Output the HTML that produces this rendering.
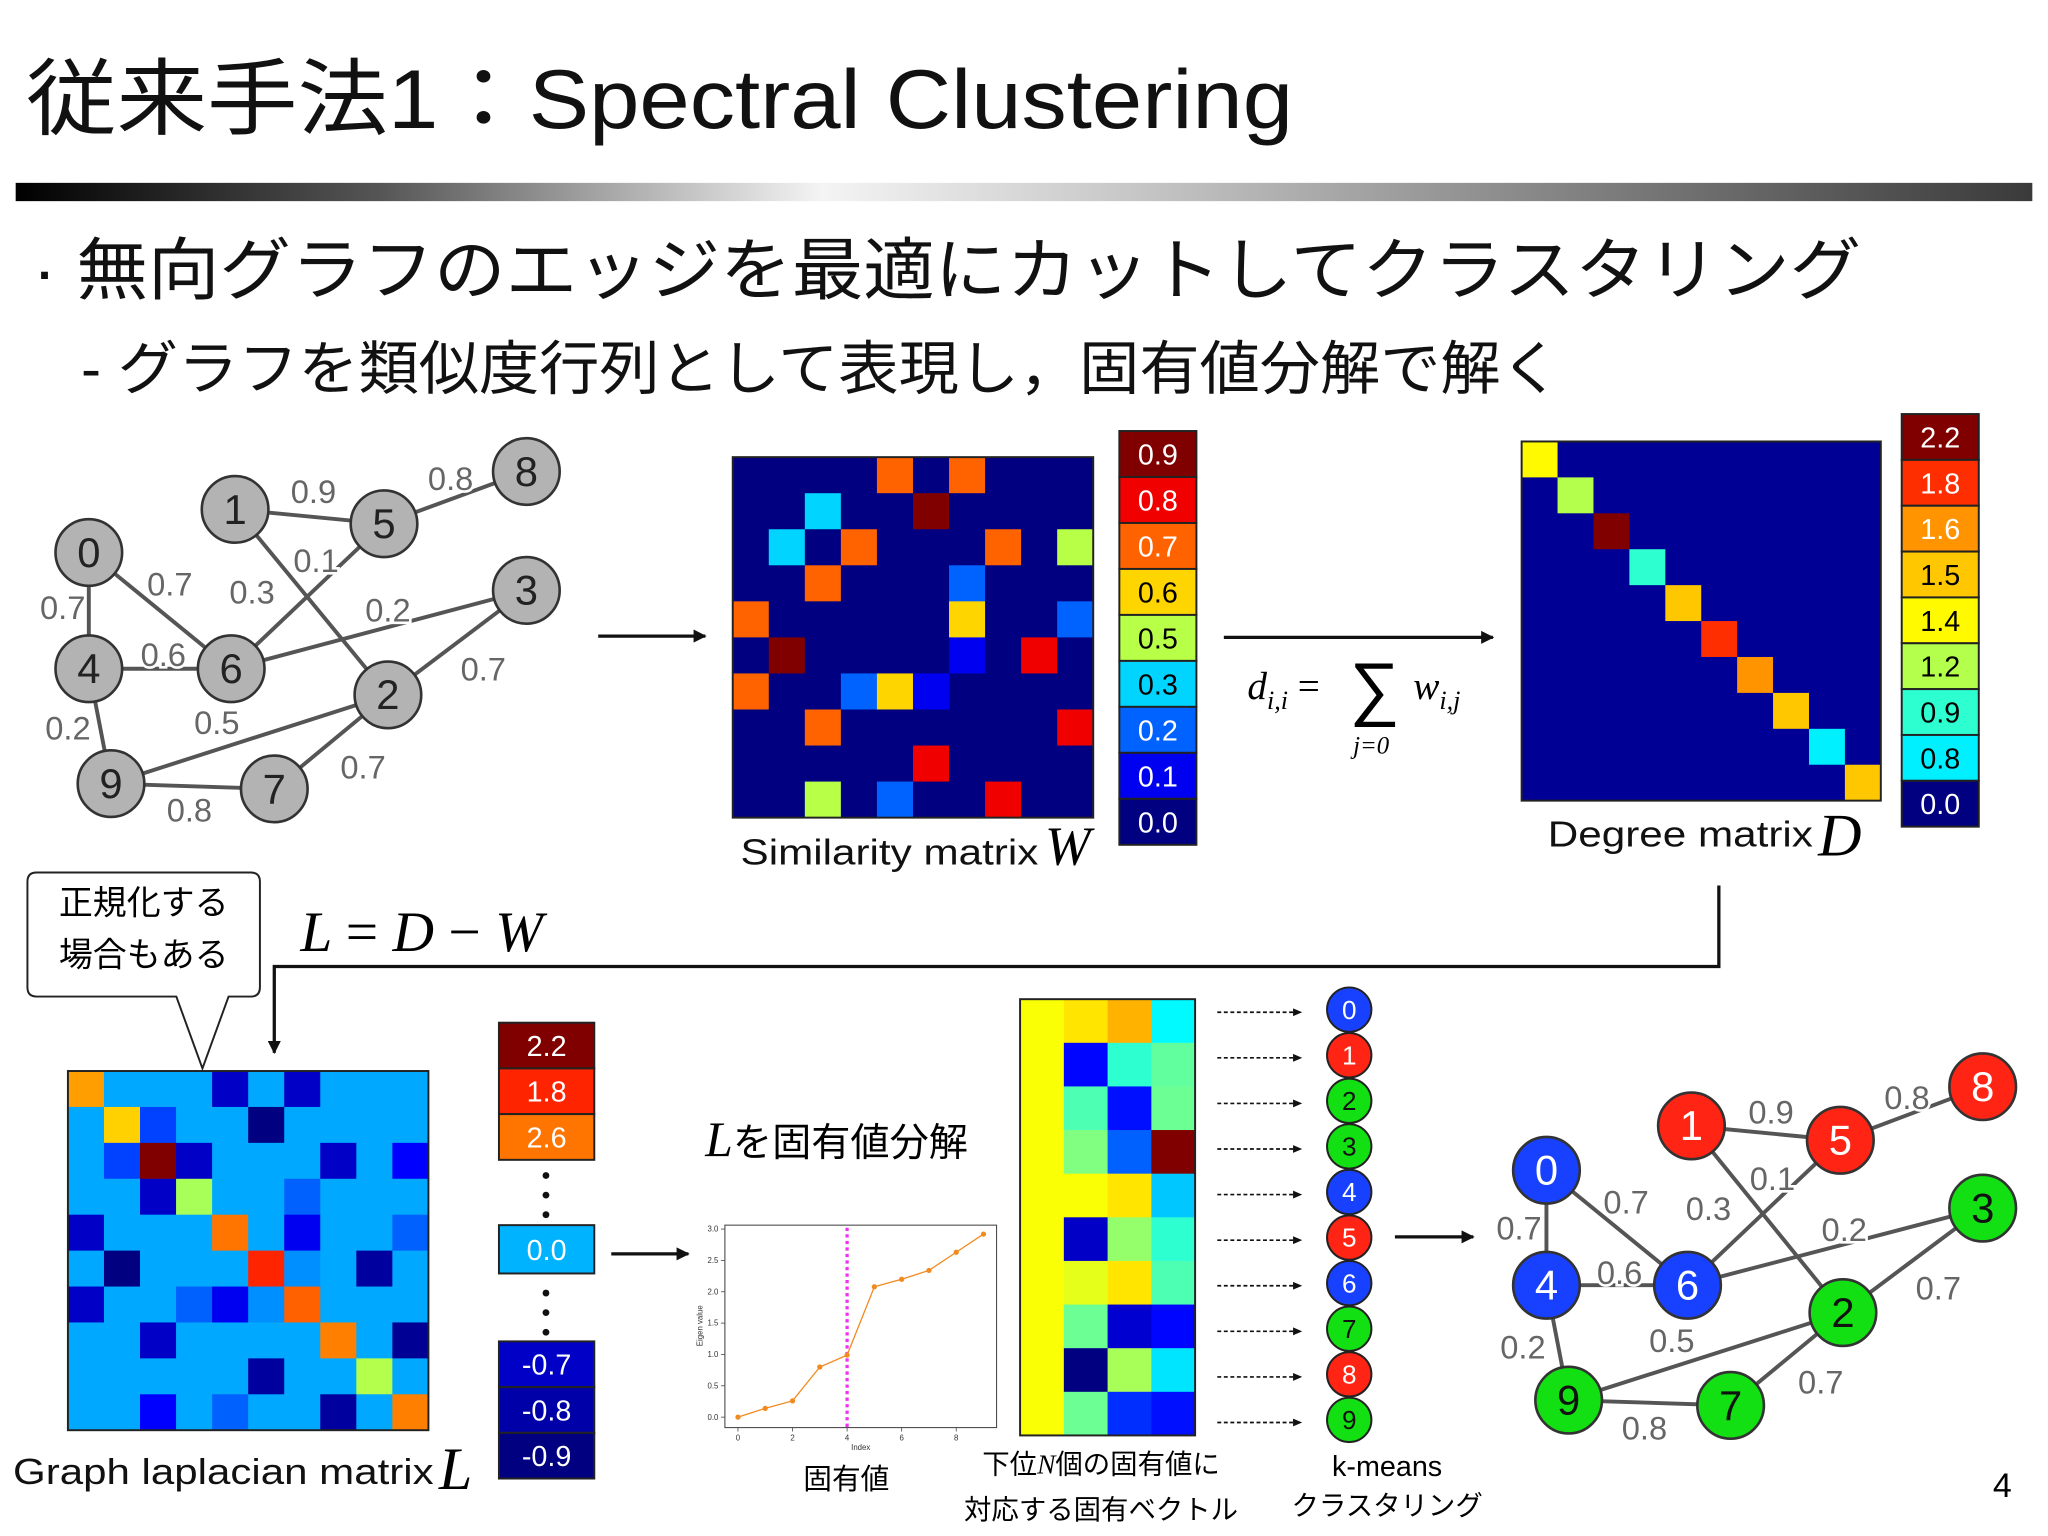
<!DOCTYPE html>
<html><head><meta charset="utf-8">
<style>
html,body{margin:0;padding:0;background:#fff;}
svg{display:block;}
text{font-family:"Liberation Sans","Noto Sans CJK JP",sans-serif;}
.ser{font-family:"Liberation Serif","Noto Serif CJK SC",serif;font-style:italic;}
</style></head>
<body>
<svg id="s" width="2048" height="1536" viewBox="0 0 1568 1176" xmlns="http://www.w3.org/2000/svg">
<defs>
<linearGradient id="bar" x1="0" x2="1" y1="0" y2="0">
<stop offset="0" stop-color="#000"/><stop offset="0.18" stop-color="#555"/><stop offset="0.4" stop-color="#f4f4f4"/><stop offset="0.55" stop-color="#c8c8c8"/><stop offset="1" stop-color="#3a3a3a"/>
</linearGradient>
<marker id="ah" markerWidth="10" markerHeight="10" refX="9" refY="5" orient="auto" markerUnits="userSpaceOnUse"><path d="M0,0 L10,5 L0,10 z" fill="#111"/></marker>
<marker id="ahs" markerWidth="8" markerHeight="8" refX="7" refY="4" orient="auto" markerUnits="userSpaceOnUse"><path d="M0,1 L7,4 L0,7 z" fill="#111"/></marker>
</defs>
<text x="20" y="98" font-size="64" fill="#111" textLength="970" lengthAdjust="spacingAndGlyphs">従来手法1：Spectral Clustering</text>
<rect x="12" y="140" width="1544" height="14" fill="url(#bar)"/>
<text x="25" y="225" font-size="52" fill="#111" textLength="1400" lengthAdjust="spacingAndGlyphs">· 無向グラフのエッジを最適にカットしてクラスタリング</text>
<text x="62" y="298" font-size="45" fill="#111" textLength="1133" lengthAdjust="spacingAndGlyphs">- グラフを類似度行列として表現し，固有値分解で解く</text>

<line x1="458" y1="487" x2="540" y2="487" stroke="#111" stroke-width="2.5" marker-end="url(#ah)"/>
<line x1="937" y1="488" x2="1143" y2="488" stroke="#111" stroke-width="2.5" marker-end="url(#ah)"/>
<g>
<text x="955" y="535" font-size="30" class="ser">d<tspan font-size="20" dy="8">i,i</tspan><tspan dy="-8" font-style="normal"> = </tspan></text>
<text x="1033" y="545" font-size="54" font-family="DejaVu Serif, serif">∑</text>
<text x="1036" y="577" font-size="19" class="ser">j=0</text>
<text x="1082" y="535" font-size="30" class="ser">w<tspan font-size="20" dy="8">i,j</tspan></text>
</g>
<text x="567" y="662" font-size="28" fill="#111" textLength="228" lengthAdjust="spacingAndGlyphs">Similarity matrix</text>
<text x="800" y="662" font-size="42" class="ser">W</text>
<text x="1185" y="648" font-size="28" fill="#111" textLength="203" lengthAdjust="spacingAndGlyphs">Degree matrix</text>
<text x="1392" y="655" font-size="46" class="ser">D</text>

<polyline points="1316,678 1316,740 210,740 210,806" fill="none" stroke="#111" stroke-width="2.5" marker-end="url(#ah)"/>
<text x="230" y="728" font-size="44" class="ser">L <tspan font-style="normal">=</tspan> D <tspan font-style="normal">−</tspan> W</text>
<g>
<path d="M28,668 H192 Q199,668 199,675 V756 Q199,763 192,763 H175 L155,818 L135,763 H28 Q21,763 21,756 V675 Q21,668 28,668 Z" fill="#fff" stroke="#222" stroke-width="1.5"/>
<text x="110" y="700" font-size="26" text-anchor="middle">正規化する</text>
<text x="110" y="740" font-size="26" text-anchor="middle">場合もある</text>
</g>
<text x="10" y="1136" font-size="28" fill="#111" textLength="322" lengthAdjust="spacingAndGlyphs">Graph laplacian matrix</text>
<text x="336" y="1140" font-size="46" class="ser">L</text>
<line x1="468" y1="960" x2="527" y2="960" stroke="#111" stroke-width="2.5" marker-end="url(#ah)"/>
<text x="540" y="885" font-size="30"><tspan class="ser" font-size="38">L</tspan>を固有値分解</text>
<text x="615" y="1140" font-size="22">固有値</text>
<text x="843" y="1128" font-size="21" text-anchor="middle">下位<tspan class="ser">N</tspan>個の固有値に</text>
<text x="843" y="1163" font-size="21" text-anchor="middle">対応する固有ベクトル</text>
<text x="1062" y="1130" font-size="22" text-anchor="middle">k-means</text>
<text x="1062" y="1160" font-size="21" text-anchor="middle">クラスタリング</text>
<line x1="1068" y1="947" x2="1128" y2="947" stroke="#111" stroke-width="2.5" marker-end="url(#ah)"/>
<text x="1533" y="1146" font-size="26" text-anchor="middle">4</text>
<g id="dyn"></g>
</svg>
<script>
// ---- data ----
const nodeIds=[0,1,2,3,4,5,6,7,8,9];
const edgeFrom=[0,0,1,1,5,5,6,4,4,9,9,7,2];
const edgeTo  =[4,6,5,2,6,8,3,6,9,2,7,2,3];
const edgeW   =[0.7,0.7,0.9,0.3,0.1,0.8,0.2,0.6,0.2,0.5,0.8,0.7,0.7];
const clusterColor=['#1840ff','#ff2414','#12e012','#12e012','#1840ff','#ff2414','#1840ff','#12e012','#ff2414','#12e012'];
const wRows=[[0,0,0,0,0.7,0,0.7,0,0,0],[0,0,0.3,0,0,0.9,0,0,0,0],[0,0.3,0,0.7,0,0,0,0.7,0,0.5],[0,0,0.7,0,0,0,0.2,0,0,0],[0.7,0,0,0,0,0,0.6,0,0,0.2],[0,0.9,0,0,0,0,0.1,0,0.8,0],[0.7,0,0,0.2,0.6,0.1,0,0,0,0],[0,0,0.7,0,0,0,0,0,0,0.8],[0,0,0,0,0,0.8,0,0,0,0],[0,0,0.5,0,0.2,0,0,0.8,0,0]];
const wBarLabels=['0.9','0.8','0.7','0.6','0.5','0.3','0.2','0.1','0.0'];
const degrees=[1.4,1.2,2.2,0.9,1.5,1.8,1.6,1.5,0.8,1.5];
const dBarLabels=['2.2','1.8','1.6','1.5','1.4','1.2','0.9','0.8','0.0'];
const dBarT=[1,0.83,0.73,0.68,0.63,0.55,0.42,0.36,0];
const lBg=0.29;
const lCells=[[0,0,.72],[0,4,.07],[0,6,.07],[1,1,.67],[1,2,.19],[1,5,0],[2,1,.19],[2,2,1],[2,3,.07],[2,7,.07],[2,9,.125],[3,2,.07],[3,3,.54],[3,6,.22],[4,0,.07],[4,4,.76],[4,6,.11],[4,9,.22],[5,1,0],[5,5,.84],[5,6,.265],[5,8,.03],[6,0,.07],[6,3,.22],[6,4,.11],[6,5,.265],[6,6,.78],[7,2,.07],[7,7,.75],[7,9,.02],[8,5,.03],[8,8,.55],[9,2,.125],[9,4,.22],[9,7,.03],[9,9,.75]];
const lBarTop=['2.2','1.8','2.6'];
const lBarTopT=[1,0.84,0.76];
const lBarBot=['-0.7','-0.8','-0.9'];
const lBarBotT=[0.07,0.04,0];
const eigIdx=[0,1,2,3,4,5,6,7,8,9];
const eigVals=[0,0.14,0.26,0.8,0.99,2.08,2.2,2.34,2.63,2.92];
const eigCut=4;
const xTicks=[0,2,4,6,8];
const yTicks=[0,0.5,1,1.5,2,2.5,3];
const vecT=[[.62,.65,.7,.37],[.62,.13,.42,.47],[.62,.45,.14,.48],[.62,.5,.22,1],[.62,.62,.65,.32],[.62,.07,.52,.42],[.62,.6,.65,.45],[.62,.48,.08,.13],[.62,0,.54,.35],[.62,.48,.17,.14]];

const NS='http://www.w3.org/2000/svg';
const dyn=document.getElementById('dyn');
function mk(tag,attrs,parent,txt){const e=document.createElementNS(NS,tag);for(const k in attrs)e.setAttribute(k,attrs[k]);if(txt!==undefined)e.textContent=txt;(parent||dyn).appendChild(e);return e;}
function cl(v){return Math.max(0,Math.min(1,v));}
function jet(t){const r=cl(1.5-Math.abs(4*t-3)),g=cl(1.5-Math.abs(4*t-2)),b=cl(1.5-Math.abs(4*t-1));return `rgb(${Math.round(r*255)},${Math.round(g*255)},${Math.round(b*255)})`;}
function txtCol(t){return (t>0.3&&t<0.7)?'#000':'#fff';}

// ---- graphs ----
function drawGraph(pos,labelPos,fills,textFill,name){
  const g=mk('g',{});
  
  
  edgeFrom.forEach((a,i)=>{const b=edgeTo[i];
    const l=mk('line',{x1:pos[a][0],y1:pos[a][1],x2:pos[b][0],y2:pos[b][1],stroke:'#555','stroke-width':3},g);
    
    
  });
  edgeFrom.forEach((a,i)=>{
    const t=mk('text',{x:labelPos[i][0],y:labelPos[i][1],'font-size':25,fill:'#666','text-anchor':'middle',stroke:'#fff','stroke-width':4,'paint-order':'stroke'},g,edgeW[i].toFixed(1));
    
    
  });
  nodeIds.forEach(n=>{
    const c=mk('circle',{cx:pos[n][0],cy:pos[n][1],r:25.5,fill:fills[n],stroke:'#333','stroke-width':2},g);
    
    
    const t=mk('text',{x:pos[n][0],y:pos[n][1]+11,'font-size':32,fill:textFill(n),'text-anchor':'middle'},g,String(n));
    
    
  });
}
const pos1=[[68,423],[180,390],[297,532],[403,452],[68,512],[294,401],[177,512],[210,604],[403,361],[85,600]];
const lab1=[[48,474],[130,456],[240,385],[193,462],[242,438],[345,375],[297,476],[125,510],[52,566],[166,562],[145,629],[278,596],[370,521]];
drawGraph(pos1,lab1,nodeIds.map(()=> '#b3b3b3'),()=>'#222','graph-input');
const pos2=[[1184,896],[1295,862],[1411,1005],[1518,925],[1184,984],[1409,873],[1292,984],[1325,1076],[1518,832],[1201,1072]];
const lab2=[[1163,949],[1245,929],[1356,860],[1308,934],[1357,911],[1460,849],[1412,950],[1240,983],[1166,1040],[1280,1035],[1259,1102],[1394,1067],[1484,995]];
drawGraph(pos2,lab2,clusterColor,n=>clusterColor[n]==='#12e012'?'#111':'#fff','graph-clustered');

// ---- heatmap helper ----
function heat(x0,y0,w,h,rows,cols,getT,name){
  const g=mk('g',{});
  
  
  const cw=w/cols,ch=h/rows;
  for(let r=0;r<rows;r++)for(let c=0;c<cols;c++){
    const e=mk('rect',{x:x0+c*cw,y:y0+r*ch,width:cw+0.4,height:ch+0.4,fill:jet(getT(r,c))},g);
    
    
  }
  mk('rect',{x:x0,y:y0,width:w,height:h,fill:'none',stroke:'#222','stroke-width':1.5},g);
}
heat(561,350,276,276,10,10,(r,c)=>wRows[r][c]/0.9,'similarity-matrix');
const dMap={};dBarLabels.forEach((l,i)=>dMap[l]=dBarT[i]);
heat(1165,338,275,275,10,10,(r,c)=>r===c?dMap[degrees[r].toFixed(1)]:0.02,'degree-matrix');
const lGrid=Array.from({length:10},()=>Array(10).fill(lBg));
lCells.forEach(([r,c,t])=>lGrid[r][c]=t);
heat(52,820,276,275,10,10,(r,c)=>lGrid[r][c],'laplacian-matrix');
heat(781,765,134,334,10,4,(r,c)=>vecT[r][c],'eigenvector-matrix');

// ---- colorbars ----
function cbar(x,y,w,ch,labels,ts,name){
  const g=mk('g',{});
  
  
  labels.forEach((l,i)=>{
    const r=mk('rect',{x:x,y:y+i*ch,width:w,height:ch,fill:jet(ts[i]),stroke:'#222','stroke-width':1.5},g);
    
    
    const t=mk('text',{x:x+w/2,y:y+i*ch+ch/2+8,'font-size':22,fill:txtCol(ts[i]),'text-anchor':'middle'},g,l);
    
    
  });
}
const wBarT=wBarLabels.map(l=>parseFloat(l)/0.9);
cbar(857,330,59,35.2,wBarLabels,wBarT,'similarity-colorbar');
cbar(1456,317,59,35.1,dBarLabels,dBarT,'degree-colorbar');
cbar(382,783,73,35,lBarTop,lBarTopT,'laplacian-colorbar-top');
cbar(382,938,73,37,['0.0'],[0.3],'laplacian-colorbar-zero');
cbar(382,1027,73,35,lBarBot,lBarBotT,'laplacian-colorbar-bottom');
[900,915,930,990,1005,1020].forEach(y=>mk('circle',{cx:418,cy:y,r:2.6,fill:'#111'}));

// ---- eigenvalue plot ----
const px0=555,px1=763,py0=938,py1=1093;
const xS=v=>565+v*(753-565)/9;
const yS=v=>1085-v*(1085-941)/3;
const pg=mk('g',{});


mk('rect',{x:px0,y:py0,width:px1-px0,height:py1-py0,fill:'#fff',stroke:'#444','stroke-width':0.8},pg);
xTicks.forEach(v=>{mk('line',{x1:xS(v),x2:xS(v),y1:py1,y2:py1+3,stroke:'#444','stroke-width':0.6},pg);
  const t=mk('text',{x:xS(v),y:py1+10,'font-size':6,'text-anchor':'middle',fill:'#333'},pg,String(v));
  
  });
yTicks.forEach(v=>{mk('line',{x1:px0-3,x2:px0,y1:yS(v),y2:yS(v),stroke:'#444','stroke-width':0.6},pg);
  const t=mk('text',{x:px0-5,y:yS(v)+2,'font-size':6,'text-anchor':'end',fill:'#333'},pg,v.toFixed(1));
  
  });
const xl=mk('text',{x:(px0+px1)/2,y:py1+17,'font-size':6,'text-anchor':'middle',fill:'#333'},pg,'Index');


const yl=mk('text',{x:538,y:1015,'font-size':6,'text-anchor':'middle',fill:'#333',transform:'rotate(-90 538 1015)'},pg,'Eigen value');


const cut=mk('line',{x1:xS(eigCut),x2:xS(eigCut),y1:py0+2,y2:py1,stroke:'#ee33ee','stroke-width':2.5,'stroke-dasharray':'2.5,2.5'},pg);


const ln=mk('polyline',{points:eigIdx.map((x,i)=>xS(x)+','+yS(eigVals[i])).join(' '),fill:'none',stroke:'#f28a20','stroke-width':1},pg);


eigIdx.forEach((x,i)=>{const p=mk('circle',{cx:xS(x),cy:yS(eigVals[i]),r:2,fill:'#f28a20'},pg);
  
  });

// ---- k-means nodes ----
nodeIds.forEach((n,i)=>{
  const y=773+i*34.9;
  const a=mk('line',{x1:932,y1:y+2,x2:997,y2:y+2,stroke:'#111','stroke-width':1.3,'stroke-dasharray':'3,2','marker-end':'url(#ahs)'});
  
  
  const c=mk('circle',{cx:1033,cy:y,r:17,fill:clusterColor[n],stroke:'#222','stroke-width':1.5});
  
  
  const t=mk('text',{x:1033,y:y+7,'font-size':20,'text-anchor':'middle',fill:clusterColor[n]==='#12e012'?'#111':'#fff'},dyn,String(n));
  
  
});
</script>
</body></html>
